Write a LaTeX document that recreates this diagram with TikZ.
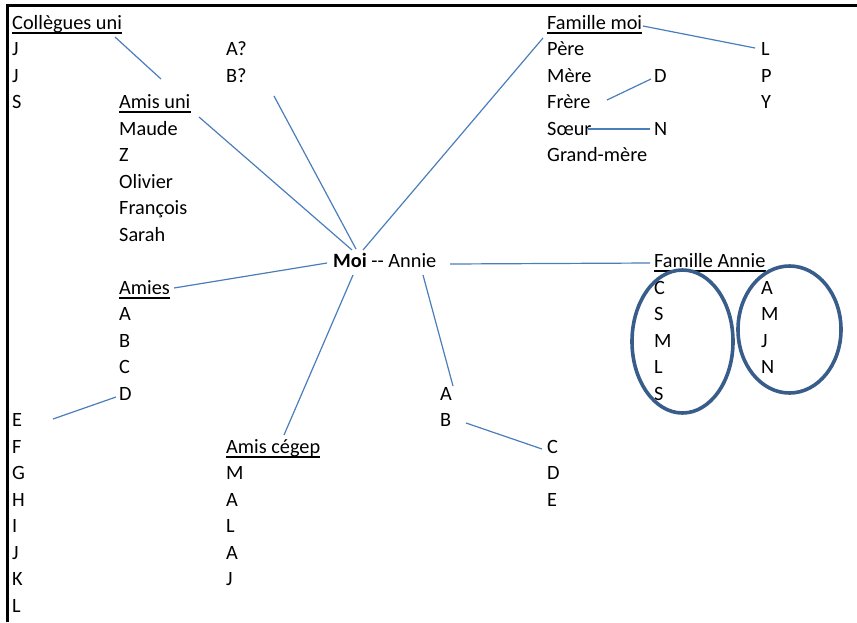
\documentclass[tikz,border=0pt]{standalone}
\usepackage{fontspec}
\setmainfont{Carlito}
\definecolor{linkblue}{RGB}{74,126,187}
\definecolor{ringblue}{RGB}{56,93,138}
\begin{document}
\begin{tikzpicture}[x=1pt,y=-1pt,
  txt/.style={anchor=base west, inner sep=0pt, font=\fontsize{20.3}{24}\selectfont},
  link/.style={draw=linkblue, line width=1.2pt},
  ring/.style={draw=ringblue, line width=3.6pt},
  ulline/.style={line width=1.8pt},
  frameline/.style={line width=3pt}]
\useasboundingbox (0,0) rectangle (857,622);
% frame
\coordinate (ftl) at (7.5,5.5);
\coordinate (ftr) at (857,5.5);
\coordinate (fbl) at (7.5,622);
\draw[frameline] (ftr) -- (ftl) -- (fbl);

% column 1
\node[txt] (cu) at (12,29) {Collègues uni};
\node[txt] (j1) at (12,55.5) {J};
\node[txt] (j2) at (12,82) {J};
\node[txt] (s1) at (12,108.5) {S};
\node[txt] (e1) at (12,426.5) {E};
\node[txt] (f1) at (12,453) {F};
\node[txt] (g1) at (12,479.5) {G};
\node[txt] (h1) at (12,506) {H};
\node[txt] (i1) at (12,532.5) {I};
\node[txt] (jj1) at (12,559) {J};
\node[txt] (k1) at (12,585.5) {K};
\node[txt] (l1) at (12,612) {L};

% column 2
\node[txt] (au) at (119,108.5) {Amis uni};
\node[txt] (maude) at (119,135) {Maude};
\node[txt] (z) at (119,161.5) {Z};
\node[txt] (olivier) at (119,188) {Olivier};
\node[txt] (francois) at (119,214.5) {François};
\node[txt] (sarah) at (119,241) {Sarah};
\node[txt] (amies) at (119,294) {Amies};
\node[txt] (ama) at (119,320.5) {A};
\node[txt] (amb) at (119,347) {B};
\node[txt] (amc) at (119,373.5) {C};
\node[txt] (amd) at (119,400) {D};

% column 3
\node[txt] (aq) at (226,55.5) {A?};
\node[txt] (bq) at (226,82) {B?};
\node[txt] (ac) at (226,453) {Amis cégep};
\node[txt] (acm) at (226,479.5) {M};
\node[txt] (aca) at (226,506) {A};
\node[txt] (acl) at (226,532.5) {L};
\node[txt] (aca2) at (226,559) {A};
\node[txt] (acj) at (226,585.5) {J};

% centre
\node[txt] (moi) at (333,267.5) {\textbf{Moi} -{}- Annie};

% column 5
\node[txt] (ana) at (440,400) {A};
\node[txt] (anb) at (440,426.5) {B};

% column 6
\node[txt] (fm) at (547,29) {Famille moi};
\node[txt] (pere) at (547,55.5) {Père};
\node[txt] (mere) at (547,82) {Mère};
\node[txt] (frere) at (547,108.5) {Frère};
\node[txt] (soeur) at (547,135) {Sœur};
\node[txt] (gm) at (547,161.5) {Grand-mère};
\node[txt] (anc) at (547,453) {C};
\node[txt] (and) at (547,479.5) {D};
\node[txt] (ane) at (547,506) {E};

% column 7
\node[txt] (fd) at (654,82) {D};
\node[txt] (fn) at (654,135) {N};
\node[txt] (fa) at (654,267.5) {Famille Annie};
\node[txt] (fac) at (654,294) {C};
\node[txt] (fas) at (654,320.5) {S};
\node[txt] (fam) at (654,347) {M};
\node[txt] (fal) at (654,373.5) {L};
\node[txt] (fas2) at (654,400) {S};

% column 8
\node[txt] (fl) at (761,55.5) {L};
\node[txt] (fp) at (761,82) {P};
\node[txt] (fy) at (761,108.5) {Y};
\node[txt] (faa) at (761,294) {A};
\node[txt] (fam2) at (761,320.5) {M};
\node[txt] (faj) at (761,347) {J};
\node[txt] (fan) at (761,373.5) {N};

% underlines
\foreach \n in {cu,au,amies,ac,fm,fa}
  \draw[ulline] ([yshift=-3.6pt]\n.base west) -- ([yshift=-3.6pt]\n.base east);

% ellipses
\draw[ring] (682.5,341.5) ellipse [x radius=50.5pt, y radius=71.5pt];
\draw[ring] (789.5,329.5) ellipse [x radius=51.5pt, y radius=63.5pt];

% connector end points
\coordinate (c1a) at (115,37);   \coordinate (c1b) at (161,79);
\coordinate (c2a) at (199,117);  \coordinate (c2b) at (352,250);
\coordinate (c3a) at (274,96);   \coordinate (c3b) at (356,249);
\coordinate (c4a) at (543,38);   \coordinate (c4b) at (363,250);
\coordinate (c5a) at (643,26);   \coordinate (c5b) at (755,48);
\coordinate (c6a) at (607,100);  \coordinate (c6b) at (651,79);
\coordinate (c7a) at (588,129);  \coordinate (c7b) at (650,129);
\coordinate (c8a) at (174,288);  \coordinate (c8b) at (327,263);
\coordinate (c9a) at (353,275);  \coordinate (c9b) at (284,435);
\coordinate (c10a) at (423,275); \coordinate (c10b) at (453,386);
\coordinate (c11a) at (450,264); \coordinate (c11b) at (650,263);
\coordinate (c12a) at (466,423); \coordinate (c12b) at (542,449);
\coordinate (c13a) at (116,397); \coordinate (c13b) at (53,419);

\foreach \i in {1,...,13}
  \draw[link] (c\i a) -- (c\i b);
\end{tikzpicture}
\end{document}
